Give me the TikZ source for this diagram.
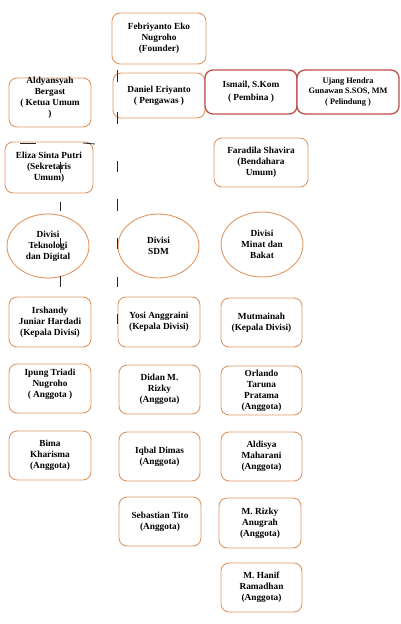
\documentclass[tikz,border=0pt]{standalone}
\usepackage{fontspec}
\setmainfont{Liberation Serif}
\usetikzlibrary{shapes.geometric}
\definecolor{orng}{RGB}{224,150,98}
\definecolor{redb}{RGB}{190,78,76}
\tikzset{
  bx/.style={draw=orng, line width=0.9pt, rounded corners=8pt, fill=white, align=center, inner sep=0pt,
    font=\fontsize{9.3}{11}\selectfont\bfseries},
  rbx/.style={bx, draw=redb, line width=1.3pt},
  ell/.style={ellipse, draw=orng, line width=0.9pt, fill=white, align=center, inner sep=0pt,
    font=\fontsize{9.3}{11}\selectfont\bfseries},
  txt/.style={align=center, inner sep=0pt, font=\fontsize{9.3}{11}\selectfont\bfseries},
  tick/.style={draw=black!85, line width=0.8pt}
}
\begin{document}
\begin{tikzpicture}[x=1pt,y=-1pt]
\useasboundingbox (0,0) rectangle (400,624);
% top
\node[bx, minimum width=94, minimum height=51] (feb) at (159,38.5) {Febriyanto Eko\\Nugroho\\(Founder)};
\node[bx, minimum width=92, minimum height=45] (dan) at (159,95.5) {Daniel Eriyanto\\( Pengawas )};
\node[rbx, minimum width=92, minimum height=44, font=\fontsize{9.3}{13}\selectfont\bfseries] (ism) at (251,92) {Ismail, S.Kom\\( Pembina )};
\node[rbx, minimum width=102, minimum height=44, font=\fontsize{8.3}{10.5}\selectfont\bfseries] (uja) at (348,92) {Ujang Hendra\\Gunawan S.SOS, MM\\( Pelindung )};
\node[bx, minimum width=94, minimum height=49] (far) at (261,162.5) {Faradila Shavira\\(Bendahara\\Umum)};
\node[bx, minimum width=82, minimum height=49] (ald) at (50,102.5) {};
\node[txt] (aldt) at (50,97.5) {Aldyansyah\\Bergast\\( Ketua Umum\\)};
\node[bx, minimum width=88, minimum height=51] (eli) at (49,167.5) {Eliza Sinta Putri\\(Sekretaris\\Umum)};
% divisions
\node[ell, minimum width=82, minimum height=64] (tek) at (48,246) {Divisi\\Teknologi\\dan Digital};
\node[ell, minimum width=81, minimum height=64] (sdm) at (158.5,246) {Divisi\\SDM};
\node[ell, minimum width=82, minimum height=65] (min) at (262,244.5) {Divisi\\Minat dan\\Bakat};
% heads
\node[bx, minimum width=82, minimum height=50] (irs) at (50,322) {Irshandy\\Juniar Hardadi\\(Kepala Divisi)};
\node[bx, minimum width=82, minimum height=50] (yos) at (159,322) {Yosi Anggraini\\(Kepala Divisi)};
\node[bx, minimum width=81, minimum height=49] (mut) at (261.5,322.5) {Mutmainah\\(Kepala Divisi)};
% members
\node[bx, minimum width=82, minimum height=49] (ipu) at (50,388.5) {};
\node[txt] (iput) at (50,384) {Ipung Triadi\\Nugroho\\( Anggota )};
\node[bx, minimum width=81, minimum height=49] (did) at (159.5,389.5) {Didan M.\\Rizky\\(Anggota)};
\node[bx, minimum width=81, minimum height=49] (orl) at (261.5,390.5) {Orlando\\Taruna\\Pratama\\(Anggota)};
\node[bx, minimum width=82, minimum height=49] (bim) at (50,455.5) {Bima\\Kharisma\\(Anggota)};
\node[bx, minimum width=81, minimum height=49] (iqb) at (159.5,456.5) {Iqbal Dimas\\(Anggota)};
\node[bx, minimum width=81, minimum height=49] (als) at (261.5,456.5) {Aldisya\\Maharani\\(Anggota)};
\node[bx, minimum width=82, minimum height=49] (seb) at (160,521.5) {Sebastian Tito\\(Anggota)};
\node[bx, minimum width=82, minimum height=50] (riz) at (260,523) {M. Rizky\\Anugrah\\(Anggota)};
\node[bx, minimum width=81, minimum height=49] (han) at (261.5,587.5) {M. Hanif\\Ramadhan\\(Anggota)};
% stray line fragments
\foreach \a/\b in {70/82,112/124,161/172,199/211,238/249,277/287,314/324}
  \draw[tick] (117,\a) -- (117,\b);
\foreach \a/\b in {162/173,202/211,238/247,276/287}
  \draw[tick] (60,\a) -- (60,\b);
\draw[tick] (20,143) -- (36,143);
\draw[tick] (83,143) -- (95,144);
\end{tikzpicture}
\end{document}
